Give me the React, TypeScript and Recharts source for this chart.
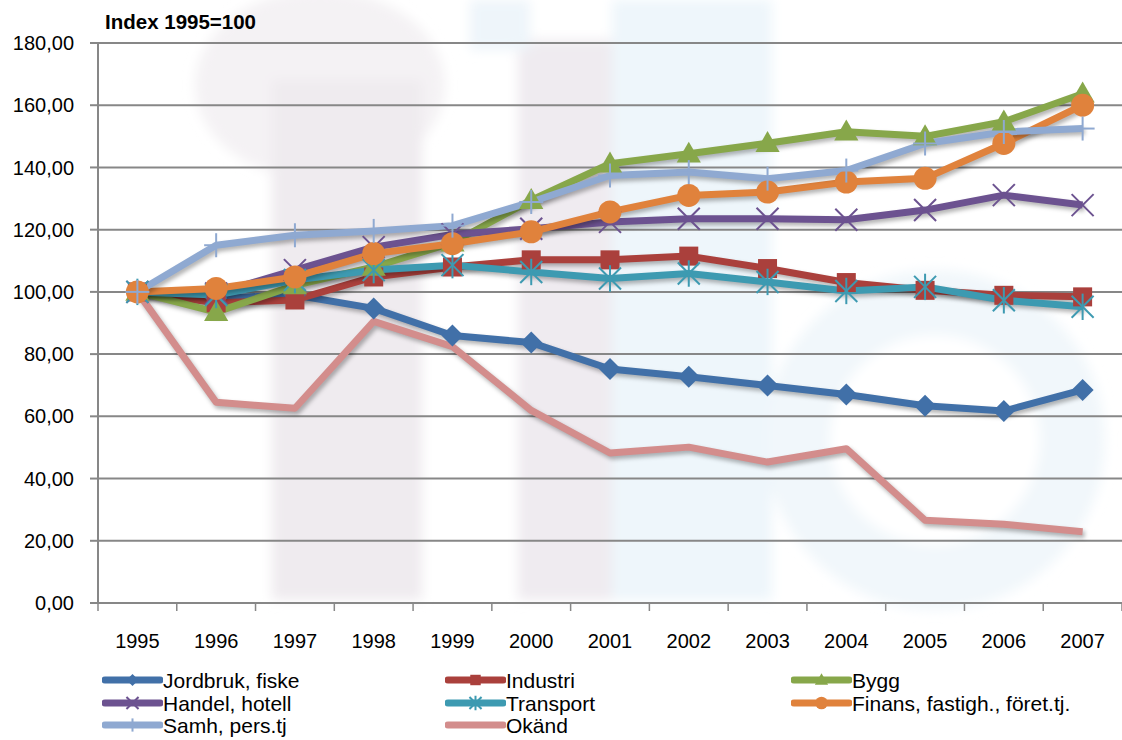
import React from 'react';
import { LineChart, Line, XAxis, YAxis, CartesianGrid } from 'recharts';

const years = ['1995', '1996', '1997', '1998', '1999', '2000', '2001', '2002', '2003', '2004', '2005', '2006', '2007'];
const jordbruk = [100, 98, 99, 94.7, 86, 83.7, 75.2, 72.7, 69.9, 67, 63.4, 61.7, 68.5];
const industri = [100, 96.5, 97.4, 104.8, 108, 110.3, 110.3, 111.5, 107.5, 103, 100.5, 98.9, 98.4];
const bygg = [100, 93.5, 102.1, 108, 115.8, 129.5, 141.2, 144.4, 147.8, 151.5, 150, 154.7, 163.7];
const handel = [100, 99.5, 107, 114.4, 118.5, 120.3, 122.5, 123.5, 123.5, 123.2, 126.3, 131.1, 127.9];
const transport = [100, 99, 103.8, 107, 108.6, 106.4, 104.3, 105.9, 103.2, 100.3, 101.6, 97.3, 95.2];
const finans = [100, 101.1, 104.8, 112.3, 115.5, 119.3, 125.7, 131, 132.1, 135.3, 136.5, 147.7, 160];
const samh = [100, 115, 118.2, 119.6, 121.3, 128.9, 137.4, 138.5, 136.4, 139, 147.7, 151.4, 152.5];
const okand = [100, 64.5, 62.6, 90.5, 82.4, 61.9, 48.2, 50.1, 45.3, 49.6, 26.6, 25.3, 22.9];
const yTicks = [0, 20, 40, 60, 80, 100, 120, 140, 160, 180];
const title = 'Index 1995=100';

const series = [
  { key: 'jordbruk', name: 'Jordbruk, fiske', values: jordbruk, color: '#4170A8', marker: 'diamond' },
  { key: 'industri', name: 'Industri', values: industri, color: '#AA403C', marker: 'square' },
  { key: 'bygg', name: 'Bygg', values: bygg, color: '#87A74A', marker: 'triangle' },
  { key: 'handel', name: 'Handel, hotell', values: handel, color: '#6C5290', marker: 'x' },
  { key: 'transport', name: 'Transport', values: transport, color: '#3D9AB1', marker: 'star' },
  { key: 'finans', name: 'Finans, fastigh., föret.tj.', values: finans, color: '#E0823C', marker: 'circle' },
  { key: 'samh', name: 'Samh, pers.tj', values: samh, color: '#8FA9D1', marker: 'plus' },
  { key: 'okand', name: 'Okänd', values: okand, color: '#D38D8C', marker: 'none' },
];

const data = years.map((y, i) => {
  const row: any = { year: y };
  series.forEach((s) => { row[s.key] = s.values[i]; });
  return row;
});

const W = 1122;
const H = 740;
const LEFT = 98;
const TOP = 43;
const PLOT_H = 560;
const BAND = (W - LEFT) / years.length;
const GRID = '#878787';

const Marker = ({ type, cx, cy, color, s = 1 }: any) => {
  if (cx == null || cy == null) return null;
  switch (type) {
    case 'diamond': {
      const r = 11 * s;
      return <polygon points={`${cx},${cy - r} ${cx + r},${cy} ${cx},${cy + r} ${cx - r},${cy}`} fill={color} />;
    }
    case 'square': {
      const r = 9.5 * s;
      return <rect x={cx - r} y={cy - r} width={2 * r} height={2 * r} fill={color} />;
    }
    case 'triangle': {
      const r = 11 * s;
      return <polygon points={`${cx},${cy - r * 1.1} ${cx + r * 1.1},${cy + r * 0.8} ${cx - r * 1.1},${cy + r * 0.8}`} fill={color} />;
    }
    case 'x': {
      const r = 11 * s;
      return (
        <g stroke={color} strokeWidth={2}>
          <line x1={cx - r} y1={cy - r} x2={cx + r} y2={cy + r} />
          <line x1={cx - r} y1={cy + r} x2={cx + r} y2={cy - r} />
        </g>
      );
    }
    case 'star': {
      const r = 11 * s;
      return (
        <g stroke={color} strokeWidth={2}>
          <line x1={cx - r} y1={cy - r} x2={cx + r} y2={cy + r} />
          <line x1={cx - r} y1={cy + r} x2={cx + r} y2={cy - r} />
          <line x1={cx} y1={cy - r * 1.2} x2={cx} y2={cy + r * 1.2} />
        </g>
      );
    }
    case 'circle':
      return <circle cx={cx} cy={cy} r={11.5 * s} fill={color} />;
    case 'plus': {
      const r = 12 * s;
      return (
        <g stroke={color} strokeWidth={2}>
          <line x1={cx} y1={cy - r} x2={cx} y2={cy + r} />
          <line x1={cx - r} y1={cy} x2={cx + r} y2={cy} />
        </g>
      );
    }
    default:
      return null;
  }
};

const XTick = (props: any) => {
  const { x, y, payload, index } = props;
  return (
    <g>
      <line x1={x - BAND / 2} x2={x - BAND / 2} y1={y} y2={y + 8} stroke={GRID} strokeWidth={1.5} />
      {index === years.length - 1 && (
        <line x1={x + BAND / 2} x2={x + BAND / 2} y1={y} y2={y + 8} stroke={GRID} strokeWidth={1.5} />
      )}
      <text x={x} y={y + 45} textAnchor="middle" fontSize={20} fill="#000">{payload.value}</text>
    </g>
  );
};

const legendCols = [102, 445, 791];
const legendRows = [680, 702.5, 725];

const Watermark = () => (
  <svg width={W} height={H} style={{ position: 'absolute', left: 0, top: 0 }}>
    <defs>
      <filter id="wmblur" x="-20%" y="-20%" width="140%" height="140%">
        <feGaussianBlur stdDeviation="6" />
      </filter>
    </defs>
    <g filter="url(#wmblur)">
      <ellipse cx={320} cy={85} rx={125} ry={95} fill="#f4f2f4" />
      <rect x={272} y={80} width={150} height={520} fill="#efebef" />
      <rect x={518} y={40} width={95} height={560} fill="#efebf0" />
      <rect x={612} y={0} width={160} height={600} fill="#eef6fb" />
      <rect x={470} y={0} width={60} height={50} fill="#eef5fa" />
      <circle cx={935} cy={440} r={170} fill="#f1f7fb" />
      <circle cx={935} cy={440} r={105} fill="#ffffff" />
    </g>
  </svg>
);

export default function App() {
  return (
    <div style={{ position: 'absolute', left: 0, top: 0, width: W, height: H, background: '#fff', fontFamily: '"Liberation Sans", Arial, sans-serif' }}>
      <style>{`.recharts-line { filter: drop-shadow(2px 3px 2px rgba(0,0,0,0.3)); } .recharts-wrapper { position: absolute !important; left: 0; top: 0; }`}</style>
      <Watermark />
      <div style={{ position: 'absolute', left: 105, top: 9, fontSize: 20.5, fontWeight: 'bold', lineHeight: '26px', color: '#000', whiteSpace: 'nowrap' }}>{title}</div>
      <LineChart width={W} height={H} data={data} margin={{ top: TOP, right: 0, left: 0, bottom: 0 }}>
        <CartesianGrid vertical={false} stroke={GRID} strokeWidth={2} />
        <XAxis
          dataKey="year"
          interval={0}
          height={H - TOP - PLOT_H}
          padding={{ left: BAND / 2, right: BAND / 2 }}
          tickLine={false}
          tickSize={0}
          tickMargin={0}
          axisLine={{ stroke: GRID, strokeWidth: 2 }}
          tick={<XTick />}
        />
        <YAxis
          width={LEFT}
          domain={[0, 180]}
          ticks={yTicks}
          interval={0}
          tickFormatter={(v: number) => v.toFixed(2).replace('.', ',')}
          tick={{ fontSize: 20, fill: '#000' }}
          tickSize={8}
          tickMargin={16}
          tickLine={{ stroke: GRID, strokeWidth: 2 }}
          axisLine={{ stroke: GRID, strokeWidth: 2 }}
        />
        {series.map((s) => (
          <Line
            key={s.key}
            dataKey={s.key}
            name={s.name}
            type="linear"
            stroke={s.color}
            strokeWidth={7}
            strokeLinejoin="round"
            isAnimationActive={false}
            activeDot={false}
            dot={s.marker === 'none' ? false : (p: any) => (
              <Marker key={`${s.key}-${p.index}`} type={s.marker} cx={p.cx} cy={p.cy} color={s.color} />
            )}
          />
        ))}
      </LineChart>
      {series.map((s, i) => {
        const col = i % 3;
        const row = Math.floor(i / 3);
        return (
          <div key={s.key} style={{ position: 'absolute', left: legendCols[col], top: legendRows[row] - 11, height: 22, display: 'flex', alignItems: 'center', whiteSpace: 'nowrap' }}>
            <svg width={61} height={20} style={{ display: 'block' }}>
              <line x1={3} y1={10} x2={58} y2={10} stroke={s.color} strokeWidth={7} strokeLinecap="round" />
              <Marker type={s.marker} cx={30.5} cy={10} color={s.color} s={0.55} />
            </svg>
            <span style={{ fontSize: 21, lineHeight: '22px', color: '#000', position: 'relative', top: 1 }}>{s.name}</span>
          </div>
        );
      })}
    </div>
  );
}
